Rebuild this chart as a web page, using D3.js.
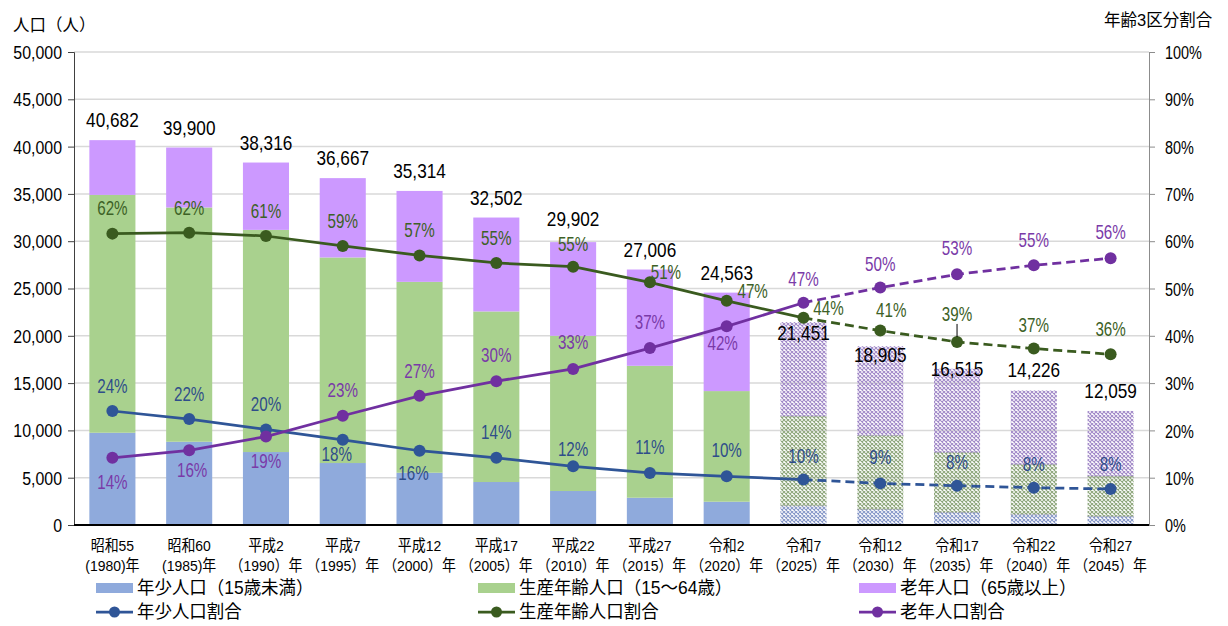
<!DOCTYPE html>
<html lang="ja">
<head>
<meta charset="utf-8">
<title>年齢3区分別人口の推移</title>
<script src="https://cdn.jsdelivr.net/npm/d3@7"></script>
<style>
  html, body { margin: 0; padding: 0; background: #fff; }
  svg { display: block; }
  text { font-family: 'Liberation Sans', 'Noto Sans CJK JP', sans-serif; }
</style>
</head>
<body>
<svg id="chart" width="1228" height="626"></svg>
<script>
// ---- data -------------------------------------------------------------
const eras  = ["昭和55", "昭和60", "平成2", "平成7", "平成12", "平成17", "平成22",
               "平成27", "令和2", "令和7", "令和12", "令和17", "令和22", "令和27"];
const years = ["(1980)年", "(1985)年", "（1990）年", "（1995）年", "（2000）年", "（2005）年",
               "（2010）年", "（2015）年", "（2020）年", "（2025）年", "（2030）年", "（2035）年",
               "（2040）年", "（2045）年"];
const firstProjected = 9;   // 令和7 (2025) onward are projections

// population by age group (persons)
const youngPop   = [9751, 8800, 7712, 6550, 5525, 4543, 3592, 2884, 2461, 2040, 1655, 1342, 1130, 919];
const workingPop = [25142, 24762, 23484, 21730, 20178, 18032, 16408, 13945, 11695, 9475, 7820, 6338, 5281, 4257];
const elderlyPop = [5789, 6338, 7120, 8387, 9611, 9927, 9902, 10177, 10407, 9936, 9430, 8835, 7815, 6883];

// share of each age group (%)
const youngShare   = [24.1, 22.4, 20.2, 18.0, 15.7, 14.2, 12.4, 11.0, 10.3, 9.6, 8.8, 8.3, 7.9, 7.6];
const workingShare = [61.6, 61.8, 61.1, 59.0, 57.0, 55.4, 54.6, 51.3, 47.4, 43.8, 41.1, 38.7, 37.3, 36.1];
const elderlyShare = [14.2, 15.8, 18.7, 23.1, 27.3, 30.4, 33.0, 37.4, 42.0, 47.0, 50.2, 53.0, 54.9, 56.4];

const popTicks   = d3.range(0, 50001, 5000);
const shareTicks = d3.range(0, 101, 10);

// ---- layout -----------------------------------------------------------
const L = 74, R = 1149, T = 52, B = 525;
const svg = d3.select("#chart");

const idx = d3.range(eras.length);
const x = d3.scaleBand().domain(idx).range([L, R]).paddingInner(0.4).paddingOuter(0.2);
const cx = i => x(i) + x.bandwidth() / 2;
const yPop = d3.scaleLinear().domain([0, 50000]).range([B, T]);
const yShare = d3.scaleLinear().domain([0, 100]).range([B, T]);

const colors = {
  young:   { bar: "#8faadc", hatch: "#8798c8", line: "#2f5597", text: "#2f4d8a" },
  working: { bar: "#a9d18e", hatch: "#8ea77c", line: "#3a5b1f", text: "#3d6126" },
  elderly: { bar: "#cc99ff", hatch: "#a28ac8", line: "#7030a0", text: "#7a3aa8" }
};

// condensed text helper
function ctext(sel, px, py, str, o = {}) {
  return sel.append("text")
    .attr("transform", `translate(${px},${py}) scale(${o.sx ?? 0.85},1)`)
    .attr("text-anchor", o.anchor ?? "middle")
    .attr("dy", o.dy ?? "0.35em")
    .attr("font-size", o.size ?? 18)
    .attr("fill", o.fill ?? "#000")
    .text(str);
}

// ---- hatch patterns for projected bars --------------------------------
const defs = svg.append("defs");
Object.entries(colors).forEach(([key, c]) => {
  const p = defs.append("pattern")
    .attr("id", "hatch-" + key)
    .attr("patternUnits", "userSpaceOnUse")
    .attr("width", 4).attr("height", 4);
  p.append("path")
    .attr("d", "M0,0 L4,4 M4,0 L0,4")
    .attr("stroke", c.hatch)
    .attr("stroke-width", 1.1);
});

// ---- grid -------------------------------------------------------------
svg.append("g").selectAll("line").data(popTicks.slice(1)).join("line")
  .attr("x1", L).attr("x2", R)
  .attr("y1", d => yPop(d)).attr("y2", d => yPop(d))
  .attr("stroke", "#d9d9d9").attr("stroke-width", 1.5);

// ---- stacked bars -----------------------------------------------------
const rows = idx.map(i => ({ i, young: youngPop[i], working: workingPop[i], elderly: elderlyPop[i] }));
const keys = ["young", "working", "elderly"];
const stack = d3.stack().keys(keys)(rows);

const barG = svg.append("g");
stack.forEach(layer => {
  const key = layer.key;
  barG.append("g").selectAll("rect").data(layer).join("rect")
    .attr("x", d => x(d.data.i))
    .attr("width", x.bandwidth())
    .attr("y", d => yPop(d[1]))
    .attr("height", d => yPop(d[0]) - yPop(d[1]))
    .attr("fill", d => d.data.i >= firstProjected ? `url(#hatch-${key})` : colors[key].bar);
  // faint separating edge on projected segments
  barG.append("g").selectAll("line").data(layer.filter(d => d.data.i >= firstProjected && key !== "elderly")).join("line")
    .attr("x1", d => x(d.data.i)).attr("x2", d => x(d.data.i) + x.bandwidth())
    .attr("y1", d => yPop(d[1])).attr("y2", d => yPop(d[1]))
    .attr("stroke", "#7f7f90").attr("stroke-width", 1).attr("stroke-dasharray", "2,1").attr("opacity", 0.7);
});

// ---- axes -------------------------------------------------------------
const axL = svg.append("g").attr("transform", `translate(${L},0)`)
  .call(d3.axisLeft(yPop).tickValues(popTicks).tickFormat(d3.format(",")).tickSize(6).tickPadding(6));
axL.select(".domain").attr("stroke", "#404040");
axL.selectAll(".tick line").attr("stroke", "#404040");
axL.selectAll(".tick text").each(function () {
  const t = d3.select(this);
  const tx = +t.attr("x");
  t.attr("x", 0).attr("dy", "0.35em")
   .attr("transform", `translate(${tx},0) scale(0.86,1)`)
   .attr("font-size", 18.5).attr("fill", "#000")
   .attr("font-family", "'Liberation Sans','Noto Sans CJK JP',sans-serif");
});

const axR = svg.append("g").attr("transform", `translate(${R},0)`)
  .call(d3.axisRight(yShare).tickValues(shareTicks).tickFormat(d => d + "%").tickSize(6).tickPadding(10));
axR.select(".domain").attr("stroke", "#8c8c8c");
axR.selectAll(".tick line").attr("stroke", "#8c8c8c");
axR.selectAll(".tick text").each(function () {
  const t = d3.select(this);
  const tx = +t.attr("x");
  t.attr("x", 0).attr("dy", "0.35em")
   .attr("transform", `translate(${tx},0) scale(0.76,1)`)
   .attr("font-size", 19).attr("fill", "#000")
   .attr("font-family", "'Liberation Sans','Noto Sans CJK JP',sans-serif");
});

// baseline
svg.append("line").attr("x1", L).attr("x2", R).attr("y1", B).attr("y2", B)
  .attr("stroke", "#000").attr("stroke-width", 2);

// category labels
const catG = svg.append("g");
idx.forEach(i => {
  ctext(catG, cx(i), 546, eras[i], { size: 15.5, sx: 0.9 });
  ctext(catG, cx(i), 565.5, years[i], { size: 15.5, sx: 0.9 });
});

// axis titles
ctext(svg, 13, 25, "人口（人）", { size: 16.5, sx: 1, anchor: "start" });
ctext(svg, 1104, 20, "年齢3区分割合", { size: 16.5, sx: 1, anchor: "start" });

// ---- total labels -----------------------------------------------------
const totals = rows.map(r => r.young + r.working + r.elderly);
const totalShift = [-20, -20, -20, -20, -20, -20, -23, -20, -20, 11, 9, 0, -20, -20];
const totG = svg.append("g");
idx.forEach(i => {
  ctext(totG, cx(i), yPop(totals[i]) + totalShift[i], d3.format(",")(totals[i]), { size: 20, sx: 0.86 });
});

// ---- share lines ------------------------------------------------------
const series = [
  { key: "young", values: youngShare,
    nudge: [[0,-25],[0,-25],[0,-25],[-6,14],[-6,22],[0,-26],[0,-17],[0,-26],[0,-26],[0,-24],[0,-26],[0,-24],[0,-24],[0,-25]] },
  { key: "working", values: workingShare,
    nudge: [[0,-26],[0,-25],[0,-25],[0,-25],[0,-25],[0,-25],[0,-23],[16,-10],[26,-10],[25,-10],[11,-21],[0,-28],[0,-24],[0,-25]] },
  { key: "elderly", values: elderlyShare,
    nudge: [[0,24],[3,20],[0,24],[0,-26],[0,-25],[0,-26],[0,-27],[0,-26],[-4,17],[0,-24],[0,-24],[0,-26],[0,-25],[0,-26]] }
];

const line = d3.line().x(d => cx(d.i)).y(d => yShare(d.v));
const lineG = svg.append("g");
series.forEach(s => {
  const pts = s.values.map((v, i) => ({ i, v }));
  const c = colors[s.key];
  lineG.append("path").datum(pts.slice(0, firstProjected + 1))
    .attr("d", line).attr("fill", "none").attr("stroke", c.line).attr("stroke-width", 2.75);
  lineG.append("path").datum(pts.slice(firstProjected))
    .attr("d", line).attr("fill", "none").attr("stroke", c.line).attr("stroke-width", 2.75)
    .attr("stroke-dasharray", "9,5");
});
series.forEach(s => {
  const c = colors[s.key];
  lineG.append("g").selectAll("circle").data(s.values.map((v, i) => ({ i, v }))).join("circle")
    .attr("cx", d => cx(d.i)).attr("cy", d => yShare(d.v)).attr("r", 6)
    .attr("fill", c.line);
});

// leader line for the 2035 working-age label
lineG.append("line")
  .attr("x1", cx(11)).attr("x2", cx(11))
  .attr("y1", yShare(workingShare[11]) - 18).attr("y2", yShare(workingShare[11]) - 5)
  .attr("stroke", "#000").attr("stroke-width", 1);

// share labels
const shareG = svg.append("g");
series.forEach(s => {
  const c = colors[s.key];
  s.values.forEach((v, i) => {
    const [dx, dy] = s.nudge[i];
    ctext(shareG, cx(i) + dx, yShare(v) + dy, Math.round(v) + "%", { size: 20, sx: 0.76, fill: c.text });
  });
});

// ---- legend -----------------------------------------------------------
const legendItems = [
  { key: "young",   bar: "年少人口（15歳未満）",   line: "年少人口割合",   x: 96 },
  { key: "working", bar: "生産年齢人口（15～64歳）", line: "生産年齢人口割合", x: 478 },
  { key: "elderly", bar: "老年人口（65歳以上）",   line: "老年人口割合",   x: 859 }
];
const lg = svg.append("g");
legendItems.forEach(it => {
  const c = colors[it.key];
  lg.append("rect").attr("x", it.x).attr("y", 583).attr("width", 37).attr("height", 10).attr("fill", c.bar);
  ctext(lg, it.x + 41, 588, it.bar, { size: 18, sx: 0.97, anchor: "start" });
  lg.append("line").attr("x1", it.x).attr("x2", it.x + 37).attr("y1", 612).attr("y2", 612)
    .attr("stroke", c.line).attr("stroke-width", 2.75);
  lg.append("circle").attr("cx", it.x + 18.5).attr("cy", 612).attr("r", 5.5).attr("fill", c.line);
  ctext(lg, it.x + 41, 612, it.line, { size: 18, sx: 0.97, anchor: "start" });
});
</script>
</body>
</html>
